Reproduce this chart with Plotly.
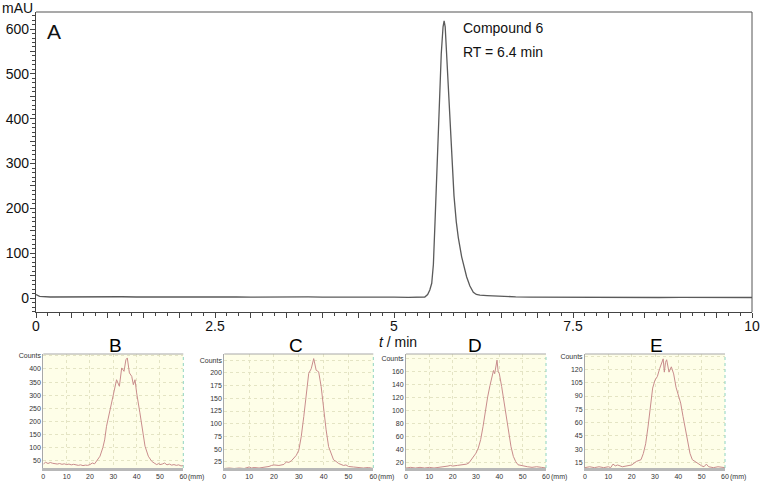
import plotly.graph_objects as go

# ---------------- Data ----------------
# Main HPLC chromatogram (panel A)
t_min = [0, 0.05, 0.2, 0.4, 0.6, 0.8, 1.0, 1.2, 1.4, 1.6, 1.8, 2.0, 2.2, 2.4, 2.6, 2.8,
         3.0, 3.2, 3.4, 3.6, 3.8, 4.0, 4.2, 4.4, 4.6, 4.8, 5.0, 5.2, 5.35, 5.43,
         5.47, 5.50, 5.527, 5.55, 5.573, 5.60, 5.633, 5.66, 5.685, 5.70, 5.715, 5.74,
         5.764, 5.80, 5.838, 5.87, 5.898, 5.945, 5.98, 6.015, 6.06, 6.108, 6.15, 6.2,
         6.3, 6.4, 6.5, 6.7, 6.9, 7.2, 7.5, 7.8, 8.1, 8.4, 8.7, 9.0, 9.3, 9.6, 9.8, 10.0]
mau = [8, 4, 2.5, 2.8, 2.2, 2.6, 2.4, 3.0, 2.5, 2.7, 2.2, 2.8, 2.4, 2.2, 2.9, 2.5,
       2.3, 2.7, 2.4, 2.8, 2.6, 2.2, 2.5, 2.1, 2.4, 2.0, 2.3, 1.8, 2.0, 2.5,
       8, 18, 33, 75, 170, 290, 440, 545, 605, 618, 605, 525,
       442, 320, 228, 170, 135, 92, 66, 47, 27, 13, 8, 6.5,
       5.5, 4.5, 3.5, 2.8, 2.2, 1.8, 2.0, 1.5, 1.9, 1.6, 1.3, 1.7, 1.4, 1.2, 1.5, 1.3]

x_tick_vals = [0, 0.5, 1, 1.5, 2, 2.5, 3, 3.5, 4, 4.5, 5, 5.5, 6, 6.5, 7, 7.5, 8, 8.5, 9, 9.5, 10]
x_tick_text = ["0", "", "", "", "", "2.5", "", "", "", "", "5", "", "", "", "", "7.5", "", "", "", "", "10"]
y_tick_vals = [0, 50, 100, 150, 200, 250, 300, 350, 400, 450, 500, 550, 600]
y_tick_text = ["0", "", "100", "", "200", "", "300", "", "400", "", "500", "", "600"]

# Radio-TLC scans (panels B-E)
mm_B = [0, 1, 2, 3, 4, 5, 6, 7, 8, 9, 10, 11, 12, 13, 14, 15, 16, 17, 18, 19, 20, 21, 22, 23,
        24.3, 25.5, 26.3, 27.1, 28.6, 30, 31.4, 32.6, 33.6, 34.6, 35.4, 36, 36.9, 37.9, 38.6,
        39.3, 40, 41.4, 42.6, 43.6, 45, 46.4, 47.5, 48.6, 49.5, 50, 51, 52, 53, 54, 55, 56,
        57, 58, 59, 60]
counts_B = [38, 45, 40, 44, 41, 40, 38, 40, 37, 39, 36, 38, 35, 37, 34, 33, 35, 32, 34, 33, 36, 42, 39, 50,
            68, 100, 130, 182, 245, 296, 359, 334, 404, 391, 435, 442, 385, 372, 340,
            359, 309, 233, 169, 106, 68, 49, 42, 36, 40, 36, 38, 42, 35, 38, 34, 36,
            33, 35, 31, 32]

mm_C = [0, 2, 4, 6, 8, 10, 11, 12, 14, 16, 18, 19, 20, 22, 24, 25, 26, 27, 28, 29, 30, 31, 32,
        33, 34, 35, 36, 37, 38, 39, 40, 41, 42, 43, 44, 45, 46, 47, 48, 49, 50, 52, 54, 56, 58, 60]
counts_C = [12, 13, 12, 13, 12, 15, 13, 14, 13, 14, 16, 18, 19, 18, 20, 25, 24, 27, 32, 38, 48, 75, 114,
            153, 199, 208, 228, 205, 202, 173, 127, 88, 55, 42, 29, 26, 22, 20, 18, 19, 16, 15, 14, 13, 14, 12]

mm_D = [0, 2, 4, 6, 8, 10, 12, 14, 16, 18, 19, 20, 22, 24, 26, 27, 28, 29, 30, 31, 32, 33, 34, 35,
        36, 37, 37.5, 38, 38.5, 39, 39.5, 40, 41, 42, 43, 44, 45, 46, 47, 48, 49, 50, 52, 54, 56, 58, 60]
counts_D = [11, 12, 11, 12, 11, 12, 11, 12, 12, 14, 15, 14, 15, 16, 17, 19, 24, 28, 34, 42, 55, 75, 101, 121,
            139, 152, 162, 157, 165, 178, 160, 157, 137, 114, 96, 70, 44, 29, 21, 16, 15, 14, 13, 12, 13, 12, 11]

mm_E = [0, 2, 4, 6, 8, 10, 11, 12, 13, 14, 16, 18, 20, 22, 24, 25, 26, 27, 28, 29, 30, 31, 32, 33,
        33.5, 34, 34.5, 35, 36, 37, 38, 39, 40, 41, 42, 43, 44, 45, 46, 48, 50, 51, 52, 53, 55, 57, 60]
counts_E = [9, 10, 9, 10, 9, 10, 9, 13, 11, 12, 10, 11, 12, 16, 18, 25, 36, 55, 78, 99, 108, 112, 121, 130,
            132, 117, 128, 131, 117, 123, 115, 100, 91, 82, 67, 52, 36, 25, 18, 14, 11, 10, 13, 10, 9, 10, 9]

panel_titles = ["B", "C", "D", "E"]
panel_x = [mm_B, mm_C, mm_D, mm_E]
panel_y = [counts_B, counts_C, counts_D, counts_E]
panel_ticks = [[50, 100, 150, 200, 250, 300, 350, 400, 450],
               [25, 50, 75, 100, 125, 150, 175, 200, 225],
               [20, 40, 60, 80, 100, 120, 140, 160, 180],
               [15, 30, 45, 60, 75, 90, 105, 120, 135]]
panel_ranges = [[23, 457], [13, 237], [11, 187.5], [8.6, 137.5]]
mm_ticks = [0, 10, 20, 30, 40, 50, 60]

# ---------------- Layout geometry ----------------
W, H = 765, 482
def px_x(p): return p / W
def px_y(p): return 1 - p / H

FONT = "Liberation Sans, Arial, sans-serif"

fig = go.Figure()

fig.add_trace(go.Scatter(x=t_min, y=mau, mode="lines",
                         line=dict(color="#5a5a5a", width=1.3),
                         xaxis="x", yaxis="y", showlegend=False, hoverinfo="skip"))

layout = dict(
    width=W, height=H,
    margin=dict(l=0, r=0, t=0, b=0, autoexpand=False),
    paper_bgcolor="white", plot_bgcolor="white",
    font=dict(family=FONT, color="#111111", size=14),
    showlegend=False,
    xaxis=dict(domain=[px_x(36), px_x(752)], range=[0, 10], anchor="y", automargin=False,
               tickvals=x_tick_vals, ticktext=x_tick_text,
               ticks="outside", ticklen=5, tickcolor="#444", tickwidth=1,
               minor=dict(dtick=1/6, tick0=0, ticks="outside", ticklen=2.5, tickcolor="#444", showgrid=False),
               showline=True, linecolor="#444", linewidth=1.2, ticklabelstandoff=-4,
               showgrid=False, zeroline=False, tickfont=dict(size=14, family=FONT, color="#111")),
    yaxis=dict(domain=[px_y(312), px_y(12)], range=[-31, 638], anchor="x", automargin=False,
               tickvals=y_tick_vals, ticktext=y_tick_text,
               ticks="outside", ticklen=5, tickcolor="#444", tickwidth=1,
               minor=dict(dtick=10, tick0=0, ticks="outside", ticklen=2.5, tickcolor="#444", showgrid=False),
               showline=True, linecolor="#444", linewidth=1.2, ticklabelstandoff=-2,
               showgrid=False, zeroline=False, tickfont=dict(size=14, family=FONT, color="#111")),
)

shapes = [
    dict(type="line", xref="x domain", yref="y domain", x0=0, x1=1, y0=1, y1=1,
         line=dict(color="#8c8c8c", width=1.5)),
    dict(type="line", xref="x domain", yref="y domain", x0=1, x1=1, y0=0, y1=1,
         line=dict(color="#555555", width=1)),
]

annotations = [
    dict(text="mAU", xref="paper", yref="paper", x=0, y=px_y(8), xanchor="left", yanchor="middle",
         showarrow=False, font=dict(size=14, family=FONT)),
    dict(text="A", xref="paper", yref="paper", x=px_x(45), y=px_y(32), xanchor="left", yanchor="middle",
         showarrow=False, font=dict(size=21, family=FONT)),
    dict(text="Compound 6", xref="paper", yref="paper", x=px_x(461), y=px_y(28), xanchor="left", yanchor="middle",
         showarrow=False, font=dict(size=14, family=FONT)),
    dict(text="RT = 6.4 min", xref="paper", yref="paper", x=px_x(461), y=px_y(52), xanchor="left", yanchor="middle",
         showarrow=False, font=dict(size=14, family=FONT)),
    dict(text="<i>t</i> / min", xref="paper", yref="paper", x=px_x(398), y=px_y(342), xanchor="center", yanchor="middle",
         showarrow=False, font=dict(size=14, family=FONT)),
]

panel_left = [43.3, 224.3, 406, 585]
panel_right = [183.3, 373.3, 546, 725]
title_x = [115, 296, 475, 656]

for i in range(4):
    n = i + 2
    xa, ya = f"x{n}", f"y{n}"
    fig.add_trace(go.Scatter(x=panel_x[i], y=panel_y[i], mode="lines",
                             line=dict(color="#c98c8c", width=1),
                             xaxis=xa, yaxis=ya, showlegend=False, hoverinfo="skip"))
    tv = panel_ticks[i]
    tt = [str(v) for v in tv[:-1]] + ["Counts"]
    layout[f"xaxis{n}"] = dict(domain=[px_x(panel_left[i]), px_x(panel_right[i])], range=[0, 60], anchor=ya,
                               automargin=False,
                               tickvals=mm_ticks, ticktext=[str(v) for v in mm_ticks], ticks="",
                               showline=True, linecolor="#b8b8b8", linewidth=3,
                               showgrid=True, gridcolor="#e4e4c4", griddash="dot", gridwidth=1,
                               zeroline=False, tickfont=dict(size=7, family=FONT, color="#333"))
    layout[f"yaxis{n}"] = dict(domain=[px_y(468), px_y(354)], range=panel_ranges[i], anchor=xa,
                               automargin=False,
                               tickvals=tv, ticktext=tt, ticks="",
                               showline=True, linecolor="#a8a8a8", linewidth=1,
                               showgrid=True, gridcolor="#e4e4c4", griddash="dot", gridwidth=1,
                               zeroline=False, tickfont=dict(size=7, family=FONT, color="#333"))
    shapes.append(dict(type="rect", xref=f"{xa} domain", yref=f"{ya} domain", x0=0, x1=1, y0=0, y1=1,
                       fillcolor="#fefee8", line=dict(width=0), layer="below"))
    shapes.append(dict(type="line", xref=f"{xa} domain", yref=f"{ya} domain", x0=0, x1=1, y0=1, y1=1,
                       line=dict(color="#a8a8a8", width=1)))
    shapes.append(dict(type="line", xref=f"{xa} domain", yref=f"{ya} domain", x0=1, x1=1, y0=0, y1=1,
                       line=dict(color="#8fd4c0", width=1, dash="dot")))
    annotations.append(dict(text=panel_titles[i], xref="paper", yref="paper", x=px_x(title_x[i]), y=px_y(345),
                            xanchor="center", yanchor="middle", showarrow=False,
                            font=dict(size=19, family=FONT, color="#000")))
    annotations.append(dict(text="(mm)", xref=f"{xa} domain", yref=f"{ya} domain", x=1, y=0,
                            xanchor="left", yanchor="top", xshift=3, yshift=-3, showarrow=False,
                            font=dict(size=7, family=FONT, color="#333")))

layout["shapes"] = shapes
layout["annotations"] = annotations
fig.update_layout(**layout)

fig.write_html("out.html", config={"displayModeBar": False},
               post_script="document.body.style.margin='0px';document.body.style.padding='0px';")
